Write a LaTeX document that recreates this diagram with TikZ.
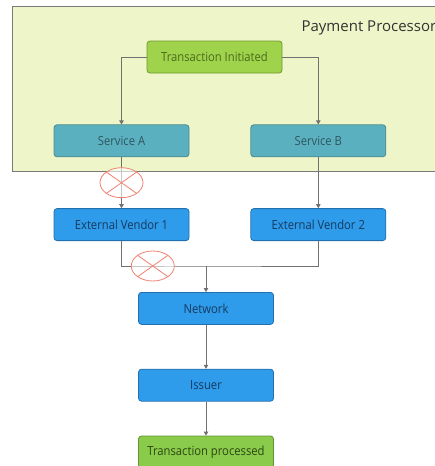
\documentclass[tikz,border=0pt]{standalone}
\usepackage{fontspec}
\setmainfont{Open Sans}
\newfontfamily\boxfont{Open Sans}[FakeStretch=0.9]
\usepackage{tikz}
\usetikzlibrary{shapes.geometric, arrows.meta, positioning, calc}

\definecolor{ppfill}{HTML}{EEF5C8}
\definecolor{ppline}{HTML}{7A7A7A}
\definecolor{limefill}{HTML}{9FD34B}
\definecolor{limeline}{HTML}{6F9A2E}
\definecolor{limetext}{HTML}{4A6A1C}
\definecolor{tealfill}{HTML}{5BB0BF}
\definecolor{tealline}{HTML}{4C8A8C}
\definecolor{tealtext}{HTML}{2E5660}
\definecolor{bluefill}{HTML}{2E9BEB}
\definecolor{blueline}{HTML}{2470AE}
\definecolor{bluetext}{HTML}{173A5E}
\definecolor{donefill}{HTML}{8BCB4B}
\definecolor{doneline}{HTML}{5E9232}
\definecolor{donetext}{HTML}{2C4612}
\definecolor{wire}{HTML}{707070}
\definecolor{failred}{HTML}{F08272}

\begin{document}
\begin{tikzpicture}[
    box/.style={rectangle, draw, rounded corners=3pt, minimum width=135pt, minimum height=32pt, align=center, font=\boxfont\fontsize{12.5}{14}\selectfont, line width=0.8pt},
    start/.style={box, fill=limefill, draw=limeline, text=limetext},
    service/.style={box, fill=tealfill, draw=tealline, text=tealtext},
    ext/.style={box, fill=bluefill, draw=blueline, text=bluetext},
    finish/.style={box, fill=donefill, draw=doneline, text=donetext},
    line/.style={draw=wire, line width=0.8pt},
    arrow/.style={line, -{Triangle[length=4pt, width=4.5pt]}},
    fail/.style={ellipse, draw=failred, fill=white, fill opacity=0.6, draw opacity=1, line width=0.8pt, minimum width=43pt, minimum height=30pt, inner sep=0pt}
]
    \useasboundingbox[fill=white] (0,0) rectangle (435pt,-466pt);
    \draw[fill=ppfill, draw=ppline, line width=0.8pt] (12pt,-6pt) rectangle (450pt,-171pt);
    \node[anchor=west, font=\fontsize{15}{17}\selectfont, text=black!80] (ppname) at (298pt,-28pt) {Payment Processor};

    \node[start] (init) at (214.5pt,-57pt) {Transaction Initiated};
    \node[service, below=51pt of init, xshift=-93pt] (sva) {Service A};
    \node[service, right=61pt of sva] (svb) {Service B};
    \node[ext, below=51pt of sva] (ev1) {External Vendor 1};
    \node[ext, below=51pt of svb] (ev2) {External Vendor 2};
    \node[ext, below=51pt of ev1, xshift=84.5pt] (net) {Network};
    \node[ext, below=44pt of net] (issuer) {Issuer};
    \node[finish, below=34pt of issuer] (done) {Transaction processed};

    \coordinate (merge) at ($(net.north)+(0,26pt)$);

    \draw[arrow] (init.west) -| (sva.north);
    \draw[arrow] (init.east) -| (svb.north);
    \draw[arrow] (sva) -- (ev1);
    \draw[arrow] (svb) -- (ev2);
    \draw[line] (ev1.south) |- (merge) -| (ev2.south);
    \draw[arrow] (merge) -- (net);
    \draw[arrow] (net) -- (issuer);
    \draw[arrow] (issuer) -- (done);

    % failed links
    \node[fail] (failA) at ($(sva.south)!0.5!(ev1.north)$) {};
    \node[fail] (failB) at ($(ev1.south |- merge)!0.37!(merge)$) {};
    \foreach \f in {failA, failB} {
        \draw[draw=failred, line width=0.8pt] (\f.north west) -- (\f.south east);
        \draw[draw=failred, line width=0.8pt] (\f.north east) -- (\f.south west);
    }
\end{tikzpicture}
\end{document}
